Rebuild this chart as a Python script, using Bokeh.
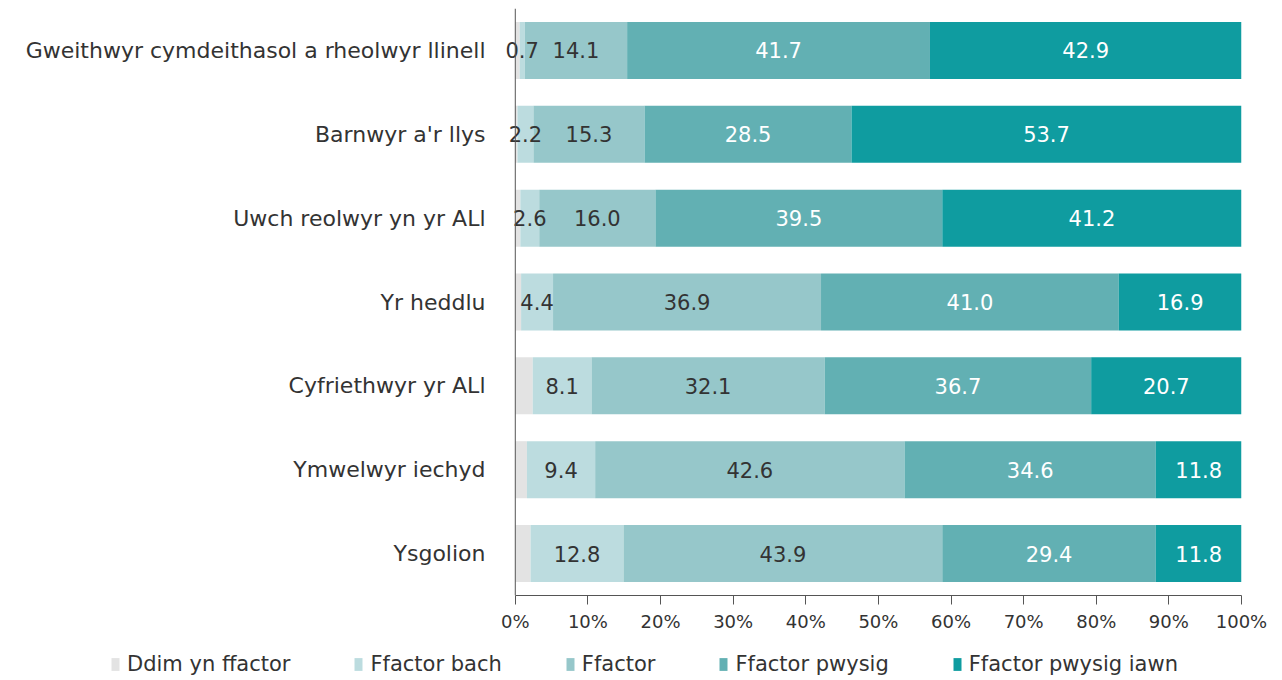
from bokeh.plotting import figure
from bokeh.layouts import column, row
from bokeh.models import (FactorRange, Range1d, Legend, LegendItem, ColumnDataSource,
                          FixedTicker, CustomJSTickFormatter, Span)
from bokeh.core.properties import value
from bokeh.embed import file_html
from bokeh.resources import INLINE

categories = [
    "Gweithwyr cymdeithasol a rheolwyr llinell",
    "Barnwyr a'r llys",
    "Uwch reolwyr yn yr ALl",
    "Yr heddlu",
    "Cyfriethwyr yr ALl",
    "Ymwelwyr iechyd",
    "Ysgolion",
]
series = ["Ddim yn ffactor", "Ffactor bach", "Ffactor", "Ffactor pwysig", "Ffactor pwysig iawn"]
ddim = [0.6, 0.3, 0.7, 0.8, 2.4, 1.6, 2.1]
bach = [0.7, 2.2, 2.6, 4.4, 8.1, 9.4, 12.8]
ffactor = [14.1, 15.3, 16.0, 36.9, 32.1, 42.6, 43.9]
pwysig = [41.7, 28.5, 39.5, 41.0, 36.7, 34.6, 29.4]
iawn = [42.9, 53.7, 41.2, 16.9, 20.7, 11.8, 11.8]
colors = ["#e3e3e3", "#bcdcdf", "#96c7ca", "#62b0b3", "#0f9ca0"]
label_colors = [None, "#333333", "#333333", "#ffffff", "#ffffff"]
ticks = [0, 10, 20, 30, 40, 50, 60, 70, 80, 90, 100]

FONT = "DejaVu Sans"
keys = ["ddim", "bach", "ffactor", "pwysig", "iawn"]
values = [ddim, bach, ffactor, pwysig, iawn]
data = {"cat": categories}
for k, v in zip(keys, values):
    data[k] = v
source = ColumnDataSource(data)

p = figure(width=1274, height=634, output_backend="svg", toolbar_location=None,
           y_range=FactorRange(factors=list(reversed(categories))),
           x_range=Range1d(-3.0, 100),
           min_border_left=493, min_border_right=33, min_border_top=8, min_border_bottom=38)
p.outline_line_color = None
p.xgrid.grid_line_color = None
p.ygrid.grid_line_color = None

rs = p.hbar_stack(keys, y="cat", height=0.68, color=colors, line_color=None, source=source)

# value axis line at 0 %
p.add_layout(Span(location=0, dimension="height", line_color="#555555", line_width=1))

# labels
for i in range(1, 5):
    starts = [sum(values[j][r] for j in range(i)) for r in range(len(categories))]
    centers = [s + values[i][r] / 2 for r, s in enumerate(starts)]
    lsrc = ColumnDataSource(dict(x=centers, y=categories,
                                 t=["%.1f" % v for v in values[i]]))
    p.text(x="x", y="y", text="t", source=lsrc, text_align="center",
           text_baseline="middle", text_color=label_colors[i],
           text_font=value(FONT), text_font_size="21px")

p.xaxis.ticker = FixedTicker(ticks=ticks)
p.xaxis.bounds = (0, 100)
p.xaxis.formatter = CustomJSTickFormatter(code="return tick + '%';")
p.xaxis.major_tick_out = 9
p.xaxis.major_tick_in = 0
p.xaxis.minor_tick_line_color = None
p.xaxis.axis_line_color = "#555555"
p.xaxis.major_tick_line_color = "#555555"
p.xaxis.major_label_text_font = FONT
p.xaxis.major_label_text_font_size = "18px"
p.xaxis.major_label_text_color = "#333333"
p.xaxis.major_label_standoff = 6

p.yaxis.major_tick_line_color = None
p.yaxis.minor_tick_line_color = None
p.yaxis.axis_line_color = None
p.yaxis.major_label_text_font = FONT
p.yaxis.major_label_text_font_size = "22px"
p.yaxis.major_label_text_color = "#333333"
p.yaxis.major_label_standoff = 2

# legend strip
lf = figure(width=1274, height=42, output_backend="svg", toolbar_location=None,
            x_range=Range1d(0, 1), y_range=Range1d(0, 1),
            x_axis_type=None, y_axis_type=None,
            min_border_left=0, min_border_right=0, min_border_top=0, min_border_bottom=0)
lf.outline_line_color = None
lf.xgrid.grid_line_color = None
lf.ygrid.grid_line_color = None
hidden = ColumnDataSource(dict(y=[5.0], left=[5.0], right=[5.1]))
lrs = [lf.hbar(y="y", left="left", right="right", height=0.5, color=c, line_color=None,
               source=hidden) for c in colors]
legend = Legend(items=[LegendItem(label=s, renderers=[r]) for s, r in zip(series, lrs)],
                orientation="horizontal", location=(110, 0),
                glyph_width=10, glyph_height=16, label_standoff=7, spacing=63,
                label_text_font=FONT, label_text_font_size="21px",
                label_text_color="#333333", border_line_color=None,
                background_fill_alpha=0, padding=0, margin=0)
lf.add_layout(legend, "center")

layout = column(p, row(lf, spacing=0), spacing=0)
open("out.html", "w").write(file_html(layout, INLINE))
